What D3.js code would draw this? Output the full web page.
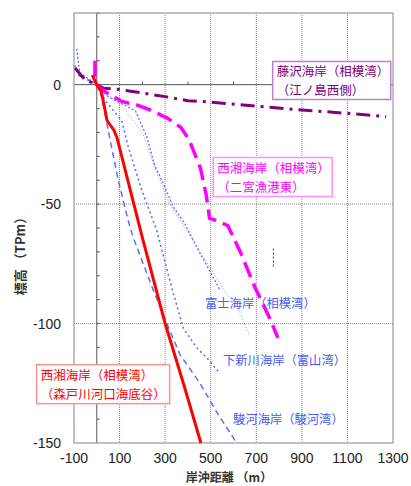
<!DOCTYPE html>
<html>
<head>
<meta charset="utf-8">
<script src="https://cdn.jsdelivr.net/npm/d3@7"></script>
<style>
  body { margin: 0; background: #fff; }
  text { font-family: "Liberation Sans", Arial, sans-serif; }
  .jp { font-family: "Noto Sans CJK JP", sans-serif; }
</style>
</head>
<body>
<svg id="chart" width="411" height="486"></svg>
<script>
// profiles: [offshore distance (m), elevation (TPm)]
const fujisawa = [[-95, 7], [-70, 4], [-50, 2], [0, 0], [30, -1.5], [100, -2], [200, -3.5], [300, -5], [400, -6.7],
  [500, -7.3], [700, -9], [900, -10.6], [1100, -12], [1270, -13.4]];
const ninomiya = [[-8, 10], [-8, 4], [0, 0], [20, -2], [110, -7], [175, -8.5], [235, -10.6], [310, -14], [370, -18],
  [405, -23], [455, -35], [480, -46], [495, -56], [530, -57], [575, -59], [630, -70], [695, -85], [760, -98], [795, -106]];
const morito = [[-20, 4], [0, 0], [20, -3], [35, -10], [45, -15], [60, -17], [75, -19], [88, -22], [200, -64],
  [300, -100], [380, -125], [457, -150]];
const suruga = [[-80, 4], [0, 0], [21, -5], [50, -19], [94, -40], [138, -57], [160, -64], [248, -86], [299, -98],
  [365, -113], [453, -125], [526, -137], [614, -150]];
const shimoniikawa = [[-96, 8], [-80, 4], [0, 0], [36, -6.5], [109, -15], [138, -26], [197, -44], [263, -61],
  [329, -85], [380, -102], [438, -110], [489, -115], [541, -121]];
const fuji = [[-88, 15], [-75, 5], [0, 0], [50, -5], [170, -11], [220, -22], [255, -34], [290, -41], [335, -51],
  [385, -58], [450, -70], [541, -86]];
const fujiFaint = [[0, 0], [120, -10], [200, -20], [260, -36], [320, -50], [400, -62], [480, -74], [560, -86],
  [620, -94], [672, -105]];
const stray = [[775, -68.6], [775, -76.3]];

const xTicks = [-100, 100, 300, 500, 700, 900, 1100, 1300];
const yTicks = [0, -50, -100, -150];
const xMinor = [200, 400, 600, 800, 1000, 1200];
const yMinor = d3.range(-140, 31, 10);

const notes = [
  { lines: ['藤沢海岸（相模湾）', '（江ノ島西側）'], x: 772, y: 9.7, w: 118, h: 38, color: '#800080', border: '#c080d0' },
  { lines: ['西湘海岸（相模湾）', '（二宮漁港東）'], x: 511, y: -30.5, w: 119, h: 39, color: '#ff00ff', border: '#ff90ff' },
  { lines: ['西湘海岸（相模湾）', '（森戸川河口海底谷）'], x: -264, y: -117.2, w: 133, h: 39, color: '#ff0000', border: '#ff9090' }
];
const blueNotes = [
  { text: '富士海岸（相模湾）', x: 475, y: -91.7 },
  { text: '下新川海岸（富山湾）', x: 554, y: -115.5 },
  { text: '駿河海岸（駿河湾）', x: 598, y: -140 }
];

const area = { left: 74, right: 393, top: 13, bottom: 443 };
const svg = d3.select('#chart');

const x = d3.scaleLinear().domain([-100, 1300]).range([area.left, area.right]);
const y = d3.scaleLinear().domain([-150, 30]).range([area.bottom, area.top]);

// grid
svg.append('g')
  .selectAll('line')
  .data(xTicks.slice(1, -1))
  .join('line')
  .attr('x1', d => x(d)).attr('x2', d => x(d))
  .attr('y1', area.top).attr('y2', area.bottom)
  .attr('stroke', '#888').attr('stroke-width', 1).attr('stroke-dasharray', '1,1');
svg.append('g')
  .selectAll('line')
  .data([-50, -100])
  .join('line')
  .attr('x1', area.left).attr('x2', area.right)
  .attr('y1', d => y(d)).attr('y2', d => y(d))
  .attr('stroke', '#888').attr('stroke-width', 1).attr('stroke-dasharray', '1,1');

// zero lines with minor ticks
svg.append('line')
  .attr('x1', x(0)).attr('x2', x(0)).attr('y1', area.top).attr('y2', area.bottom)
  .attr('stroke', '#555').attr('stroke-width', 1);
svg.append('line')
  .attr('x1', area.left).attr('x2', area.right).attr('y1', y(0)).attr('y2', y(0))
  .attr('stroke', '#555').attr('stroke-width', 1);
svg.append('g')
  .selectAll('line')
  .data(yMinor)
  .join('line')
  .attr('x1', x(0)).attr('x2', x(0) + 3)
  .attr('y1', d => y(d)).attr('y2', d => y(d))
  .attr('stroke', '#555');
svg.append('g')
  .selectAll('line')
  .data(xMinor)
  .join('line')
  .attr('x1', d => x(d)).attr('x2', d => x(d))
  .attr('y1', y(0)).attr('y2', y(0) - 3)
  .attr('stroke', '#555');

// frame
svg.append('rect')
  .attr('x', area.left).attr('y', area.top)
  .attr('width', area.right - area.left).attr('height', area.bottom - area.top)
  .attr('fill', 'none').attr('stroke', '#999').attr('stroke-width', 1.2);

// tick labels
svg.append('g')
  .selectAll('text')
  .data(xTicks)
  .join('text')
  .attr('x', d => x(d)).attr('y', 463)
  .attr('text-anchor', 'middle')
  .style('font-size', '14px').attr('fill', '#222')
  .text(d => d < 0 ? '-' + Math.abs(d) : d);
svg.append('g')
  .selectAll('text')
  .data(yTicks)
  .join('text')
  .attr('x', 61).attr('y', d => y(d) + 5)
  .attr('text-anchor', 'end')
  .style('font-size', '14px').attr('fill', '#222')
  .text(d => d < 0 ? '-' + Math.abs(d) : d);

// axis titles
svg.append('text')
  .attr('class', 'jp')
  .attr('x', 229).attr('y', 482)
  .attr('text-anchor', 'middle')
  .style('font-size', '12px').style('font-weight', 'bold').attr('fill', '#333')
  .text('岸沖距離 （m）');
svg.append('text')
  .attr('class', 'jp')
  .attr('transform', 'translate(25,253) rotate(-90)')
  .attr('text-anchor', 'middle')
  .style('font-size', '13px').style('font-weight', 'bold').attr('fill', '#333')
  .text('標高 （TPm）');

// profiles
const line = d3.line().x(d => x(d[0])).y(d => y(d[1]));
const series = [
  { data: fujiFaint, color: '#8090ff', width: 1, dash: '1,2' },
  { data: fuji, color: '#6070f0', width: 1.3, dash: '2,2' },
  { data: shimoniikawa, color: '#6070f0', width: 1.6, dash: '2,3' },
  { data: suruga, color: '#6070f0', width: 1.5, dash: '6,4' },
  { data: stray, color: '#333', width: 1, dash: '2,2' },
  { data: fujisawa, color: '#800080', width: 3, dash: '14,6,3,6' },
  { data: ninomiya, color: '#ff00ff', width: 3.5, dash: '16,7' },
  { data: morito, color: '#ff0000', width: 3, dash: null }
];
const plot = svg.append('g');
for (const s of series) {
  plot.append('path')
    .datum(s.data)
    .attr('fill', 'none')
    .attr('stroke', s.color)
    .attr('stroke-width', s.width)
    .attr('stroke-dasharray', s.dash)
    .attr('stroke-linejoin', 'round')
    .attr('d', line);
}

// boxed labels
for (const n of notes) {
  const g = svg.append('g').attr('transform', `translate(${x(n.x)},${y(n.y)})`);
  g.append('rect')
    .attr('width', n.w).attr('height', n.h)
    .attr('fill', '#fff').attr('stroke', n.border).attr('stroke-width', 1.5);
  g.selectAll('text')
    .data(n.lines)
    .join('text')
    .attr('class', 'jp')
    .attr('x', 4).attr('y', (d, i) => 15 + i * 19)
    .style('font-size', '12.5px').attr('fill', n.color)
    .text(d => d);
}
svg.append('g')
  .selectAll('text')
  .data(blueNotes)
  .join('text')
  .attr('class', 'jp')
  .attr('x', d => x(d.x)).attr('y', d => y(d.y) + 4.5)
  .style('font-size', '12.3px').attr('fill', '#4a5cf0')
  .text(d => d.text);
</script>
</body>
</html>
